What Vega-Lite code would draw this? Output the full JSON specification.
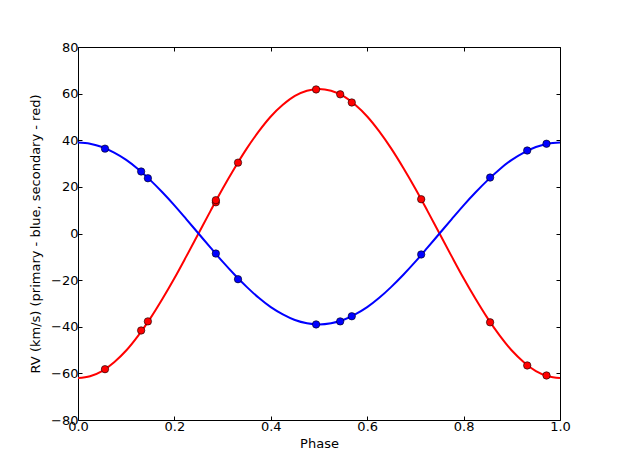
{
  "$schema": "https://vega.github.io/schema/vega-lite/v6.json",
  "width": 482,
  "height": 373,
  "autosize": {"type": "none"},
  "padding": {"left": 78, "top": 47, "right": 63, "bottom": 47},
  "background": "white",
  "config": {
    "view": {"stroke": "#000000", "strokeWidth": 1},
    "font": "DejaVu Sans",
    "axis": {"grid": false, "domain": false, "tickColor": "#000000", "labelColor": "#000000", "labelFontSize": 13, "titleFontSize": 13, "titleFontWeight": "normal", "titleColor": "#000000", "labelFont": "DejaVu Sans", "titleFont": "DejaVu Sans", "tickSize": -4, "labelPadding": 4, "labelFlush": false, "labelOverlap": false, "labelExpr": "replace(datum.label, '-', '\u2212')"}
  },
  "datasets": {
    "fit": [
      {"phase": 0, "primary": 39, "secondary": -62},
      {"phase": 0.025, "primary": 38.5, "secondary": -61.2},
      {"phase": 0.05, "primary": 37.1, "secondary": -59.0},
      {"phase": 0.075, "primary": 34.7, "secondary": -55.2},
      {"phase": 0.1, "primary": 31.6, "secondary": -50.2},
      {"phase": 0.125, "primary": 27.6, "secondary": -43.8},
      {"phase": 0.15, "primary": 22.9, "secondary": -36.4},
      {"phase": 0.175, "primary": 17.7, "secondary": -28.1},
      {"phase": 0.2, "primary": 12.1, "secondary": -19.2},
      {"phase": 0.225, "primary": 6.1, "secondary": -9.7},
      {"phase": 0.25, "primary": 0, "secondary": 0},
      {"phase": 0.275, "primary": -6.1, "secondary": 9.7},
      {"phase": 0.3, "primary": -12.1, "secondary": 19.2},
      {"phase": 0.325, "primary": -17.7, "secondary": 28.1},
      {"phase": 0.35, "primary": -22.9, "secondary": 36.4},
      {"phase": 0.375, "primary": -27.6, "secondary": 43.8},
      {"phase": 0.4, "primary": -31.6, "secondary": 50.2},
      {"phase": 0.425, "primary": -34.7, "secondary": 55.2},
      {"phase": 0.45, "primary": -37.1, "secondary": 59.0},
      {"phase": 0.475, "primary": -38.5, "secondary": 61.2},
      {"phase": 0.5, "primary": -39, "secondary": 62},
      {"phase": 0.525, "primary": -38.5, "secondary": 61.2},
      {"phase": 0.55, "primary": -37.1, "secondary": 59.0},
      {"phase": 0.575, "primary": -34.7, "secondary": 55.2},
      {"phase": 0.6, "primary": -31.6, "secondary": 50.2},
      {"phase": 0.625, "primary": -27.6, "secondary": 43.8},
      {"phase": 0.65, "primary": -22.9, "secondary": 36.4},
      {"phase": 0.675, "primary": -17.7, "secondary": 28.1},
      {"phase": 0.7, "primary": -12.1, "secondary": 19.2},
      {"phase": 0.725, "primary": -6.1, "secondary": 9.7},
      {"phase": 0.75, "primary": 0, "secondary": 0},
      {"phase": 0.775, "primary": 6.1, "secondary": -9.7},
      {"phase": 0.8, "primary": 12.1, "secondary": -19.2},
      {"phase": 0.825, "primary": 17.7, "secondary": -28.1},
      {"phase": 0.85, "primary": 22.9, "secondary": -36.4},
      {"phase": 0.875, "primary": 27.6, "secondary": -43.8},
      {"phase": 0.9, "primary": 31.6, "secondary": -50.2},
      {"phase": 0.925, "primary": 34.7, "secondary": -55.2},
      {"phase": 0.95, "primary": 37.1, "secondary": -59.0},
      {"phase": 0.975, "primary": 38.5, "secondary": -61.2},
      {"phase": 1, "primary": 39, "secondary": -62}
    ],
    "obs": [
      {"phase": 0.056, "rv": 36.4, "comp": "primary"},
      {"phase": 0.131, "rv": 26.6, "comp": "primary"},
      {"phase": 0.145, "rv": 23.7, "comp": "primary"},
      {"phase": 0.286, "rv": -8.6, "comp": "primary"},
      {"phase": 0.332, "rv": -19.6, "comp": "primary"},
      {"phase": 0.494, "rv": -39.0, "comp": "primary"},
      {"phase": 0.544, "rv": -37.7, "comp": "primary"},
      {"phase": 0.568, "rv": -35.5, "comp": "primary"},
      {"phase": 0.712, "rv": -9.0, "comp": "primary"},
      {"phase": 0.855, "rv": 24.0, "comp": "primary"},
      {"phase": 0.932, "rv": 35.6, "comp": "primary"},
      {"phase": 0.972, "rv": 38.5, "comp": "primary"},
      {"phase": 0.056, "rv": -58.2, "comp": "secondary"},
      {"phase": 0.131, "rv": -41.6, "comp": "secondary"},
      {"phase": 0.145, "rv": -37.7, "comp": "secondary"},
      {"phase": 0.286, "rv": 13.4, "comp": "secondary"},
      {"phase": 0.286, "rv": 14.3, "comp": "secondary"},
      {"phase": 0.332, "rv": 30.4, "comp": "secondary"},
      {"phase": 0.494, "rv": 61.8, "comp": "secondary"},
      {"phase": 0.544, "rv": 59.7, "comp": "secondary"},
      {"phase": 0.568, "rv": 56.2, "comp": "secondary"},
      {"phase": 0.712, "rv": 14.7, "comp": "secondary"},
      {"phase": 0.855, "rv": -38.1, "comp": "secondary"},
      {"phase": 0.932, "rv": -56.6, "comp": "secondary"},
      {"phase": 0.972, "rv": -60.9, "comp": "secondary"}
    ]
  },
  "resolve": {"axis": {"x": "independent", "y": "independent"}},
  "layer": [
    {
      "layer": [
        {
          "data": {"name": "fit"},
          "transform": [{"fold": ["secondary", "primary"], "as": ["comp", "rv"]}],
          "mark": {"type": "line", "interpolate": "monotone", "strokeWidth": 2, "clip": true},
          "encoding": {
            "x": {"field": "phase", "type": "quantitative", "scale": {"domain": [0, 1], "nice": false, "zero": false},
              "axis": {"values": [0, 0.2, 0.4, 0.6, 0.8, 1.0], "format": ".1f", "title": "Phase", "titlePadding": 4, "orient": "bottom"}},
            "y": {"field": "rv", "type": "quantitative", "scale": {"domain": [-80, 80], "nice": false},
              "axis": {"values": [-80, -60, -40, -20, 0, 20, 40, 60, 80], "title": "RV (km/s) (primary - blue, secondary - red)", "titlePadding": 8, "orient": "left"}},
            "color": {"field": "comp", "type": "nominal", "scale": {"domain": ["primary", "secondary"], "range": ["#0000ff", "#ff0000"]}, "legend": null},
            "detail": {"field": "comp"}
          }
        },
        {
          "data": {"name": "obs"},
          "mark": {"type": "circle", "size": 55, "opacity": 1, "stroke": "#000000", "strokeWidth": 0.6},
          "encoding": {
            "x": {"field": "phase", "type": "quantitative"},
            "y": {"field": "rv", "type": "quantitative"},
            "color": {"field": "comp", "type": "nominal", "scale": {"domain": ["primary", "secondary"], "range": ["#0000ff", "#ff0000"]}, "legend": null}
          }
        }
      ]
    },
    {
      "data": {"name": "obs"},
      "mark": {"type": "point", "opacity": 0},
      "encoding": {
        "x": {"field": "phase", "type": "quantitative", "axis": {"orient": "top", "values": [0, 0.2, 0.4, 0.6, 0.8, 1.0], "labels": false, "title": null}},
        "y": {"field": "rv", "type": "quantitative", "axis": {"orient": "right", "values": [-80, -60, -40, -20, 0, 20, 40, 60, 80], "labels": false, "title": null}}
      }
    }
  ]
}
